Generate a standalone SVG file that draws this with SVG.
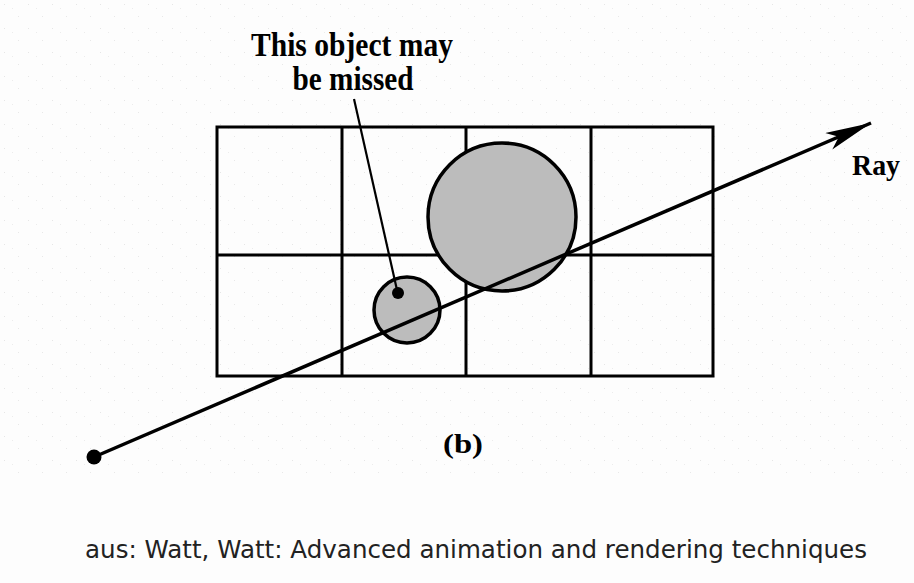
<svg xmlns="http://www.w3.org/2000/svg" width="914" height="583" viewBox="0 0 914 583">
  <defs>
    <pattern id="dots" width="24" height="24" patternUnits="userSpaceOnUse">
      <rect x="4" y="4" width="1" height="1" fill="#e6e6e6"/>
      <rect x="12" y="8" width="1" height="1" fill="#ececec"/>
      <rect x="18" y="16" width="1" height="1" fill="#e8e8e8"/>
    </pattern>
    <marker id="arrow" markerWidth="50" markerHeight="22" refX="46" refY="9" orient="auto" markerUnits="userSpaceOnUse">
      <path d="M0,0 L46,9 L0,18 L11,9 Z" fill="#000"/>
    </marker>
    <style>
      .grid { fill: none; stroke: #000; stroke-width: 3; }
      .obj { fill: #bcbcbc; stroke: #000; stroke-width: 3.5; }
      .lbl { font-family: "Liberation Serif", "Times New Roman", serif; font-weight: bold; fill: #000; }
      .cap { font-family: "DejaVu Sans", "Liberation Sans", sans-serif; fill: #222; }
      .edge { fill: none; stroke: #000; stroke-width: 3.5; }
    </style>
  </defs>
  <rect width="914" height="583" fill="#fdfdfd"/>
  <rect x="0" y="0" width="914" height="480" fill="url(#dots)"/>

  <g id="grid">
    <rect class="grid" x="217" y="127" width="496" height="249"/>
    <line class="grid" x1="217" y1="255" x2="713" y2="255"/>
    <line class="grid" x1="342" y1="127" x2="342" y2="376"/>
    <line class="grid" x1="466" y1="127" x2="466" y2="376"/>
    <line class="grid" x1="591" y1="127" x2="591" y2="376"/>
  </g>

  <g id="large-object">
    <circle class="obj" cx="502" cy="217" r="74"/>
  </g>

  <g id="small-object">
    <circle class="obj" cx="407" cy="310" r="33"/>
    <circle cx="398" cy="293" r="6" fill="#000"/>
  </g>

  <g id="connectors">
    <line class="edge" x1="94" y1="457" x2="871" y2="123" marker-end="url(#arrow)"/>
    <circle cx="94" cy="457" r="7.5" fill="#000"/>
    <line fill="none" stroke="#000" stroke-width="2.2" x1="354" y1="99" x2="397" y2="290"/>
  </g>

  <g id="labels">
    <text class="lbl" x="352" y="56" font-size="33" text-anchor="middle" textLength="202" lengthAdjust="spacingAndGlyphs">This object may</text>
    <text class="lbl" x="353" y="90" font-size="33" text-anchor="middle" textLength="121" lengthAdjust="spacingAndGlyphs">be missed</text>
    <text class="lbl" x="852" y="175" font-size="30" textLength="48" lengthAdjust="spacingAndGlyphs">Ray</text>
    <text class="lbl" x="443" y="453" font-size="28" textLength="40" lengthAdjust="spacingAndGlyphs">(b)</text>
  </g>

  <g id="caption">
    <text class="cap" x="85" y="558" font-size="25" textLength="782" lengthAdjust="spacingAndGlyphs">aus: Watt, Watt: Advanced animation and rendering techniques</text>
  </g>
</svg>
